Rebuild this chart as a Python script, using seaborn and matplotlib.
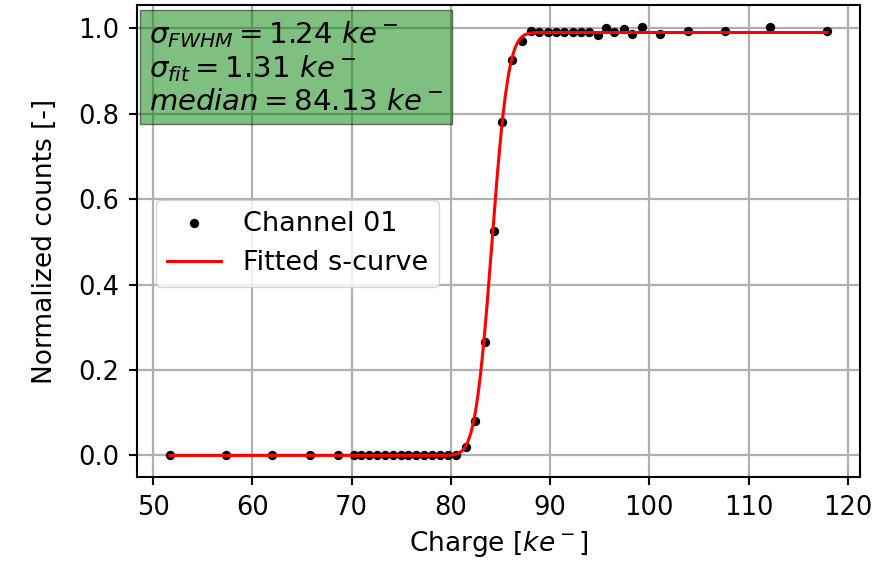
import math
import numpy as np
import pandas as pd
import seaborn as sns
import matplotlib
matplotlib.use('Agg')
import matplotlib.pyplot as plt

# measured points (charge in ke-, normalized counts)
charge = [51.7, 57.3, 62.0, 65.8, 68.6,
          70.2, 71.0, 71.8, 72.6, 73.4, 74.2, 75.0, 75.7, 76.5, 77.3, 78.1, 78.9, 79.7, 80.5,
          81.5, 82.4, 83.4, 84.3, 85.2, 86.2, 87.2,
          88.1, 88.9, 89.8, 90.6, 91.4, 92.3, 93.1, 93.9, 94.8, 95.6, 96.4, 97.4, 98.3, 99.3,
          101.1, 103.9, 107.6, 112.2, 117.9]
counts = [0.0, 0.0, 0.0, 0.0, 0.0,
          0.0, 0.0, 0.0, 0.0, 0.0, 0.0, 0.0, 0.0, 0.0, 0.0, 0.0, 0.0, 0.0, 0.0,
          0.02, 0.08, 0.265, 0.525, 0.78, 0.925, 0.969,
          0.993, 0.99, 0.99, 0.99, 0.99, 0.99, 0.99, 0.992, 0.983, 1.0, 0.99, 0.998, 0.986, 1.003,
          0.987, 0.994, 0.994, 1.004, 0.994]

# fit parameters shown in the box
sigma_fwhm = 1.24
sigma_fit = 1.31
median = 84.13
plateau = 0.99

df = pd.DataFrame({'charge': charge, 'counts': counts})

xf = np.linspace(min(charge), max(charge), 600)
yf = [0.5 * plateau * (1 + math.erf((v - median) / (math.sqrt(2) * sigma_fit))) for v in xf]
fit = pd.DataFrame({'charge': xf, 'counts': yf})

fig = plt.figure(figsize=(8.73, 5.63), dpi=100)
ax = fig.add_axes([0.157, 0.153, 0.828, 0.838])

sns.scatterplot(data=df, x='charge', y='counts', ax=ax, color='black', s=45,
                edgecolor='black', linewidth=0, label='Channel 01', zorder=3)
sns.lineplot(data=fit, x='charge', y='counts', ax=ax, color='red', linewidth=2.2,
             label='Fitted s-curve', zorder=4)

ax.grid(True, color='#b0b0b0', linewidth=1.6)
ax.set_axisbelow(True)
ax.set_xlabel('Charge [$ke^-$]', fontsize=19, labelpad=6)
ax.set_ylabel('Normalized counts [-]', fontsize=19, labelpad=14)
ax.tick_params(labelsize=18.5, width=1.5, length=6, pad=7)
for s in ax.spines.values():
    s.set_linewidth(1.5)

txt = ('$\\sigma_{FWHM} = %.2f\\ ke^-$\n$\\sigma_{fit} = %.2f\\ ke^-$\n$median = %.2f\\ ke^-$'
       % (sigma_fwhm, sigma_fit, median))
ax.text(0.016, 0.97, txt, transform=ax.transAxes, va='top', ha='left', fontsize=21,
        linespacing=1.15,
        bbox=dict(boxstyle='square,pad=0.3', facecolor='green', alpha=0.5, edgecolor='black'))

ax.legend(loc='center left', bbox_to_anchor=(0.015, 0.495), fontsize=19.5, markerscale=1.0,
          borderaxespad=0.3)

fig.savefig('out.png', dpi=100)
